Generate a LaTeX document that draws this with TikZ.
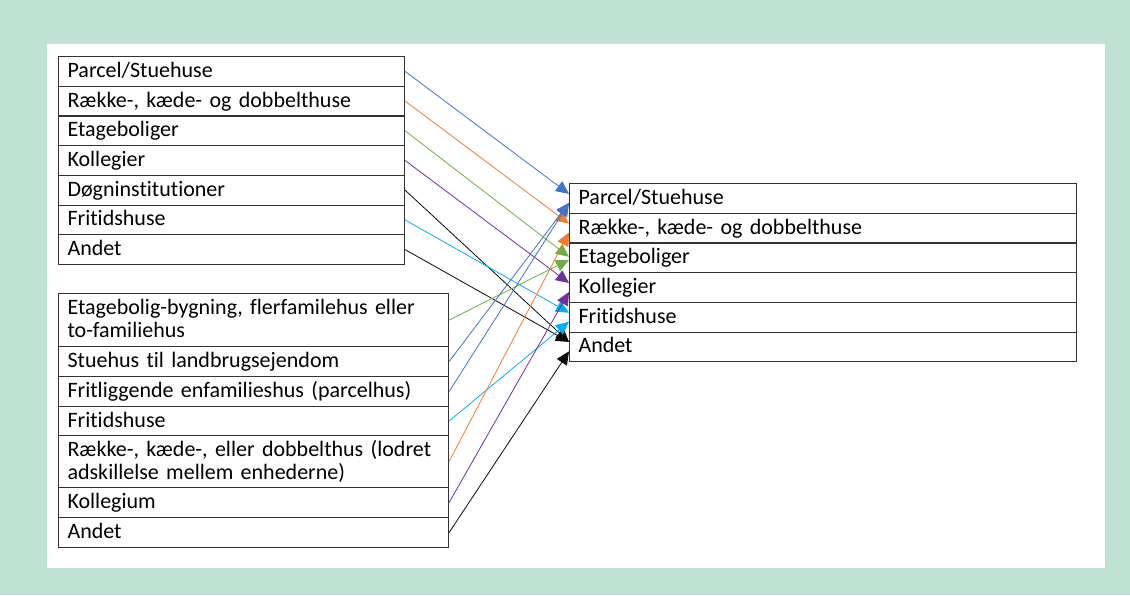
\documentclass[tikz,border=0pt]{standalone}
\usepackage{fontspec}
\setmainfont{Carlito}[Ligatures={NoCommon}]
\usetikzlibrary{arrows.meta,calc}

\definecolor{frame}{RGB}{191,225,211}
\definecolor{oBlue}{RGB}{68,114,196}
\definecolor{oOrange}{RGB}{237,125,49}
\definecolor{oGreen}{RGB}{112,173,71}
\definecolor{oPurple}{RGB}{112,48,160}
\definecolor{oCyan}{RGB}{0,176,240}
\definecolor{oBlack}{RGB}{10,10,10}

% strut giving every cell line the same height and depth
\newcommand\cellstrut{\rule[-5pt]{0pt}{22pt}}

\tikzset{
  cell/.style={draw=black!80, line width=1.1pt, anchor=north west,
    inner xsep=9pt, inner ysep=0pt, align=left,
    font=\fontsize{22}{23}\selectfont},
  cellA/.style={cell, text width=328pt},
  cellB/.style={cell, text width=372pt},
  cellC/.style={cell, text width=489pt, minimum height=29.7pt},
  conn/.style={line width=0.8pt, -{Triangle[length=13pt,width=12pt]}},
}

\begin{document}
\begin{tikzpicture}[x=1pt,y=-1pt]
  % background frame and white panel
  \fill[frame] (0,0) rectangle (1130,595);
  \fill[white] (47,44) rectangle (1105,568);
  \useasboundingbox (0,0) rectangle (1130,595);

  % upper source table
  \node[cellA, minimum height=29.7pt] (a1) at (58,56)    {\cellstrut Parcel/Stuehuse};
  \node[cellA, minimum height=29.7pt] (a2) at (58,85.7)  {\cellstrut Række-, kæde- og dobbelthuse};
  \node[cellA, minimum height=29.7pt] (a3) at (58,115.4) {\cellstrut Etageboliger};
  \node[cellA, minimum height=29.7pt] (a4) at (58,145.1) {\cellstrut Kollegier};
  \node[cellA, minimum height=29.7pt] (a5) at (58,174.8) {\cellstrut Døgninstitutioner};
  \node[cellA, minimum height=29.7pt] (a6) at (58,204.5) {\cellstrut Fritidshuse};
  \node[cellA, minimum height=29.7pt] (a7) at (58,234.2) {\cellstrut Andet};

  % lower source table
  \node[cellB, minimum height=53pt] (b1) at (58,293) {\cellstrut Etagebolig-bygning, flerfamilehus eller\\to-familiehus\cellstrut};
  \node[cellB, minimum height=30pt] (b2) at (58,346) {\cellstrut Stuehus til landbrugsejendom};
  \node[cellB, minimum height=30pt] (b3) at (58,376) {\cellstrut Fritliggende enfamilieshus (parcelhus)};
  \node[cellB, minimum height=29pt] (b4) at (58,406) {\cellstrut Fritidshuse};
  \node[cellB, minimum height=52pt] (b5) at (58,435) {\cellstrut Række-, kæde-, eller dobbelthus (lodret\\adskillelse mellem enhederne)\cellstrut};
  \node[cellB, minimum height=30pt] (b6) at (58,487) {\cellstrut Kollegium};
  \node[cellB, minimum height=30pt] (b7) at (58,517) {\cellstrut Andet};

  % target table
  \node[cellC] (t1) at (569,183)   {\cellstrut Parcel/Stuehuse};
  \node[cellC] (t2) at (569,212.7) {\cellstrut Række-, kæde- og dobbelthuse};
  \node[cellC] (t3) at (569,242.4) {\cellstrut Etageboliger};
  \node[cellC] (t4) at (569,272.1) {\cellstrut Kollegier};
  \node[cellC] (t5) at (569,301.8) {\cellstrut Fritidshuse};
  \node[cellC] (t6) at (569,331.5) {\cellstrut Andet};

  % connectors from the upper table
  \draw[conn, oBlue]   (a1.east) -- ($(t1.west)+(0,-4.5)$);
  \draw[conn, oOrange] (a2.east) -- ($(t2.west)+(0,-4.5)$);
  \draw[conn, oGreen]  (a3.east) -- ($(t3.west)+(0,-1)$);
  \draw[conn, oPurple] (a4.east) -- ($(t4.west)+(0,-4.5)$);
  \draw[conn, oBlack]  (a5.east) -- ($(t6.west)+(0,-5)$);
  \draw[conn, oCyan]   (a6.east) -- ($(t5.west)+(0,-4.5)$);
  \draw[conn, oBlack]  (a7.east) -- ($(t6.west)+(0,-5)$);

  % connectors from the lower table
  \draw[conn, oGreen]  (b1.east) -- ($(t3.west)+(0,2)$);
  \draw[conn, oBlue]   (b2.east) -- ($(t1.west)+(0,4.5)$);
  \draw[conn, oBlue]   (b3.east) -- ($(t1.west)+(0,4.5)$);
  \draw[conn, oCyan]   (b4.east) -- ($(t5.west)+(0,4.5)$);
  \draw[conn, oOrange] (b5.east) -- ($(t2.west)+(0,4.5)$);
  \draw[conn, oPurple] (b6.east) -- ($(t4.west)+(0,4.5)$);
  \draw[conn, oBlack]  (b7.east) -- ($(t6.west)+(0,4.5)$);
\end{tikzpicture}
\end{document}
